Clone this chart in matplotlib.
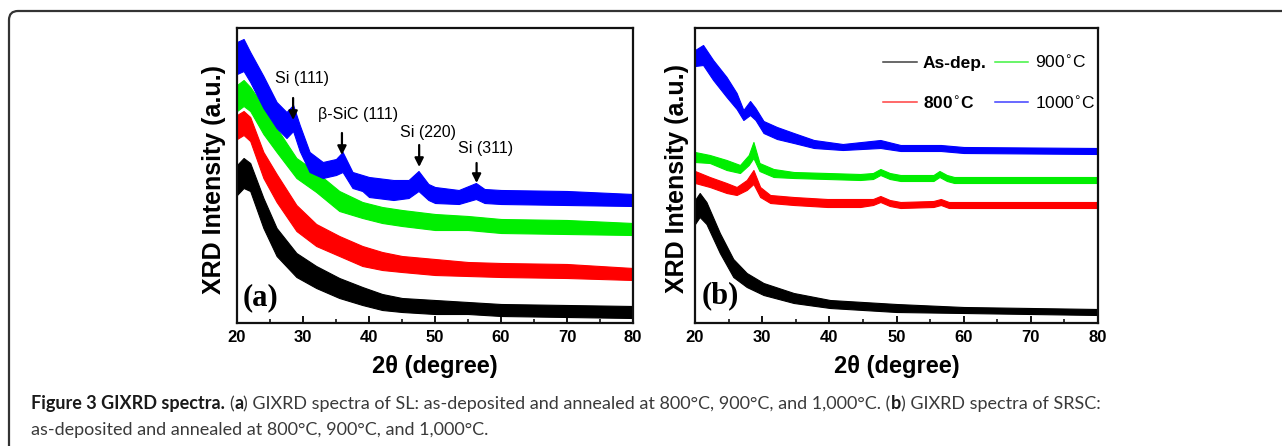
import numpy as np
import matplotlib
matplotlib.use('Agg')
import matplotlib.pyplot as plt
from matplotlib.path import Path
from matplotlib.patches import PathPatch
from matplotlib.transforms import IdentityTransform
from matplotlib.ticker import MultipleLocator
from matplotlib.lines import Line2D

# ---------------- data (intensity in a.u.) ----------------
# panel (a): SL ; each series: x (2theta), centre intensity, noise half-width
sl_asdep_x = [20, 21, 22, 24, 26, 29, 32, 35.5, 39, 42, 45, 50, 55, 60, 70, 80]
sl_asdep_y = [143, 150, 146, 110, 81, 58, 46, 35, 27, 21, 18, 16, 15, 13, 12, 11]
sl_asdep_n = [15, 15, 14, 15, 14, 12, 11, 10, 9, 8, 7, 7, 6, 6, 6, 6]

sl_800_x = [20, 21, 22, 24, 26, 29, 32, 35.5, 39, 42, 45, 50, 55, 60, 70, 80]
sl_800_y = [196, 200, 194, 158, 135, 105, 88, 77, 67, 62, 59, 56, 54, 53, 52, 49]
sl_800_n = [12, 12, 12, 13, 14, 13, 11, 10, 10, 9, 8, 8, 7, 7, 7, 6]

sl_900_x = [20, 21, 22, 24, 26, 29, 32, 35.5, 39, 42, 45, 50, 55, 60, 70, 80]
sl_900_y = [225, 230, 224, 203, 183, 155, 141, 122, 113, 108, 105, 101, 100, 97, 96, 94]
sl_900_n = [13, 13, 12, 14, 12, 10, 10, 10, 8, 8, 8, 8, 7, 7, 7, 6]

sl_1000_x = [20, 21, 22, 24, 26, 27.5, 28.5, 29.5, 31, 33, 35, 36, 37.5, 39, 40, 43.7,
             46, 47.5, 49, 50, 53.6, 56.2, 57.5, 60, 70, 80]
sl_1000_y = [265, 268, 256, 231, 208, 198, 205, 185, 161, 153, 156, 161, 143, 140, 136, 133,
             134, 142, 131, 128, 126, 132, 127, 126, 125, 123]
sl_1000_n = [16, 16, 15, 16, 13, 13, 13, 13, 10, 8, 8, 10, 8, 8, 10, 10,
             9, 10, 8, 8, 7, 8, 7, 7, 7, 6]

# panel (b): SRSC
srsc_asdep_x = [20, 20.7, 21.7, 23.7, 25.7, 27.7, 30.2, 34.7, 40.1, 50, 60, 70, 80]
srsc_asdep_y = [111, 118, 110, 80, 55, 43, 34, 25, 19, 15, 13, 12, 11]
srsc_asdep_n = [12, 12, 11, 10, 9, 7, 6, 5, 4, 4, 3, 3, 3]

srsc_800_x = [20, 22.2, 24.7, 26.2, 27.7, 28.7, 29.7, 31.2, 34.7, 39.7, 44.6, 46.5, 47.6,
              49, 50.6, 55.5, 56.6, 57.8, 60, 80]
srsc_800_y = [146, 141, 135, 132, 138, 146, 131, 124, 122, 120, 120, 121, 124,
              120, 118, 119, 121, 118, 118, 118]
srsc_800_n = [6, 5, 5, 4, 5, 7, 5, 4, 4, 4, 4, 3, 3, 3, 3, 3, 3, 3, 3, 3]

srsc_900_x = [20, 22.2, 24.7, 26.7, 28.0, 28.7, 29.6, 31.7, 34.7, 39.7, 44.6, 46.5, 47.6,
              49, 50.6, 55.5, 56.4, 57.5, 58.6, 80]
srsc_900_y = [166, 164, 158, 154, 163, 173, 156, 150, 148, 147, 146, 147, 151,
              147, 145, 145, 149, 145, 143, 143]
srsc_900_n = [5, 4, 5, 4, 5, 8, 4, 4, 3, 3, 3, 3, 3, 3, 3, 3, 3, 3, 3, 3]

srsc_1000_x = [20, 21.2, 22.7, 24.7, 26.2, 27.2, 28.2, 29, 30.2, 32.2, 34.7, 37.7, 42,
               47.6, 50.6, 56.6, 60, 80]
srsc_1000_y = [265, 268, 253, 236, 222, 208, 215, 209, 196, 190, 185, 179, 176,
               179, 175, 175, 173, 172]
srsc_1000_n = [8, 10, 10, 10, 8, 5, 7, 6, 6, 6, 5, 4, 3, 4, 3, 3, 3, 3]

series_labels = ['As-dep.', '800$^{\\circ}$C', '900$^{\\circ}$C', '1000$^{\\circ}$C']
series_colors = ['#000000', '#ff0000', '#00ee00', '#0000ff']

peak_labels = ['Si (111)', '\u03b2-SiC (111)', 'Si (220)', 'Si (311)']
peak_pos = [28.5, 35.9, 47.6, 56.3]

x_ticks = [20, 30, 40, 50, 60, 70, 80]

caption_line1 = [("Figure 3 GIXRD spectra.", True), (" (", False), ("a", True),
                 (") GIXRD spectra of SL: as-deposited and annealed at 800\u00b0C, 900\u00b0C, "
                  "and 1,000\u00b0C. (", False), ("b", True), (") GIXRD spectra of SRSC:", False)]
caption_line2 = [("as-deposited and annealed at 800\u00b0C, 900\u00b0C, and 1,000\u00b0C.", False)]

# ---------------- figure ----------------
W, H = 1282, 446
fig = plt.figure(figsize=(W / 100, H / 100), dpi=100)
fig.patch.set_facecolor('white')

SANS = ['Liberation Sans', 'DejaVu Sans']


def px_axes(x0, x1, ytop, ybot):
    return fig.add_axes([x0 / W, (H - ybot) / H, (x1 - x0) / W, (ybot - ytop) / H])


axA = px_axes(237, 633, 28, 323)
axB = px_axes(695, 1098, 28, 323)

sl = [(sl_asdep_x, sl_asdep_y, sl_asdep_n), (sl_800_x, sl_800_y, sl_800_n),
      (sl_900_x, sl_900_y, sl_900_n), (sl_1000_x, sl_1000_y, sl_1000_n)]
srsc = [(srsc_asdep_x, srsc_asdep_y, srsc_asdep_n), (srsc_800_x, srsc_800_y, srsc_800_n),
        (srsc_900_x, srsc_900_y, srsc_900_n), (srsc_1000_x, srsc_1000_y, srsc_1000_n)]

for ax, data in ((axA, sl), (axB, srsc)):
    for (x, y, n), c in zip(data, series_colors):
        x = np.asarray(x, float)
        y = np.asarray(y, float)
        n = np.asarray(n, float)
        ax.fill_between(x, y - n, y + n, color=c, lw=0.8, edgecolor=c)
    ax.set_xlim(20, 80)
    ax.set_ylim(0, 295)
    ax.set_yticks([])
    ax.set_xticks(x_ticks)
    ax.xaxis.set_minor_locator(MultipleLocator(5))
    ax.tick_params(axis='x', which='major', direction='in', length=5, width=1.3, pad=5,
                   top=False)
    ax.tick_params(axis='x', which='minor', direction='in', length=3, width=1.1, top=False)
    for lab in ax.get_xticklabels():
        lab.set_family(SANS)
        lab.set_fontweight('bold')
        lab.set_fontsize(12)
    for s in ax.spines.values():
        s.set_linewidth(1.6)
        s.set_color('#111111')
    ax.text(0.5, -0.107, '2\u03b8 (degree)', transform=ax.transAxes, ha='center', va='top',
            family=SANS, fontweight='bold', fontsize=17)

axA.text(-0.058, 0.485, 'XRD Intensity (a.u.)', transform=axA.transAxes, rotation=90,
         ha='center', va='center', family=SANS, fontweight='bold', fontsize=18)
axB.text(-0.045, 0.49, 'XRD Intensity (a.u.)', transform=axB.transAxes, rotation=90,
         ha='center', va='center', family=SANS, fontweight='bold', fontsize=18)

axA.text(20.9, 25, '(a)', ha='left', va='center', family=['Liberation Serif', 'DejaVu Serif'],
         fontweight='bold', fontsize=22)
axB.text(21.0, 27, '(b)', ha='left', va='center', family=['Liberation Serif', 'DejaVu Serif'],
         fontweight='bold', fontsize=22)

# peak annotations (panel a)
label_xy = [(29.85, 244), (38.3, 209), (48.9, 191), (57.7, 175)]
arrow_y = [(225, 203), (190, 168), (178, 156), (160, 140)]
for lab, xp, (tx, ty), (y0, y1) in zip(peak_labels, peak_pos, label_xy, arrow_y):
    axA.text(tx, ty, lab, ha='center', va='center', family=SANS, fontsize=11.5)
    axA.annotate('', xy=(xp, y1), xytext=(xp, y0),
                 arrowprops=dict(arrowstyle='-|>', color='k', lw=1.6, mutation_scale=13,
                                 shrinkA=0, shrinkB=0))

# legend (panel b)
handles = [Line2D([0], [0], color=c, lw=1.1, alpha=0.75) for c in series_colors]
leg = axB.legend(handles, series_labels, ncol=2, loc='upper left',
                 bbox_to_anchor=((883 - 695) / 403, (323 - 54) / 295), frameon=False,
                 prop={'family': SANS, 'size': 12.5}, handlelength=1.95, handletextpad=0.35,
                 columnspacing=0.45, labelspacing=1.35, borderpad=0, borderaxespad=0)
for i, t in enumerate(leg.get_texts()):
    if i < 2:
        t.set_fontweight('bold')

# outer frame with rounded top-left corner
r = 9
xl, yt = 9, H - 11
verts = [(xl, -20), (xl, yt - r), (xl, yt), (xl + r, yt), (W + 20, yt)]
codes = [Path.MOVETO, Path.LINETO, Path.CURVE3, Path.CURVE3, Path.LINETO]
fig.add_artist(PathPatch(Path(verts, codes), transform=IdentityTransform(), fill=False,
                         lw=1.6, edgecolor='#333333'))

# caption
renderer = fig.canvas.get_renderer()
CAP = ['Lato', 'DejaVu Sans']


def make(x, y, s, bold, fs):
    return fig.text(x, y, s, transform=IdentityTransform(), fontsize=fs, family=CAP,
                    fontweight='bold' if bold else 'normal',
                    color='#1a1a1a' if bold else '#3a3a3a', va='baseline', ha='left')


def measure(s, bold, fs):
    t = make(0, 0, s, bold, fs)
    w = t.get_window_extent(renderer).width
    t.remove()
    return w


def draw_line(pieces, x0, y0, fs, draw=True):
    x = x0
    sp = measure('x x', False, fs) - measure('xx', False, fs)
    for s, bold in pieces:
        lead = len(s) - len(s.lstrip(' '))
        x += lead * sp
        s2 = s.lstrip(' ')
        trail = len(s2) - len(s2.rstrip(' '))
        s2 = s2.rstrip(' ')
        if draw:
            w = make(x, y0, s2, bold, fs).get_window_extent(renderer).width
        else:
            w = measure(s2, bold, fs)
        x += w + trail * sp
    return x - x0


# fit the caption font size so line 1 spans the same width as in the reference
fs0 = 12.0
wtot = draw_line(caption_line1, 31, H - 409, fs0, draw=False)
fs = fs0 * (1097 - 31) / wtot
draw_line(caption_line1, 31, H - 409, fs)
draw_line(caption_line2, 31, H - 435, fs)

fig.savefig('out.png', dpi=100)
